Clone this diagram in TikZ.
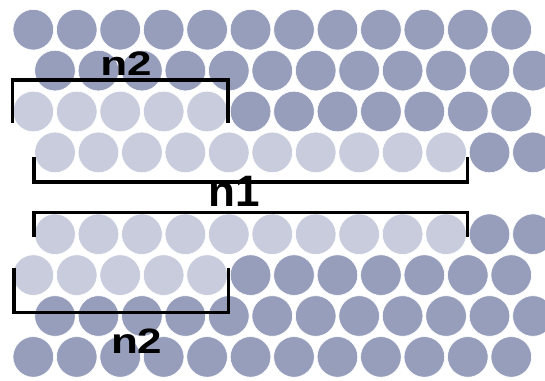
\documentclass[tikz,border=0pt]{standalone}
\usepackage{fontspec}
\setmainfont{Liberation Sans}
\definecolor{dotdark}{RGB}{150,158,187}
\definecolor{dotlight}{RGB}{200,204,220}
\tikzset{
  bead/.style={draw=white, line width=0.6pt},
  bracket/.style={draw=black, line width=3.5pt, line join=miter, line cap=butt},
  tag/.style={anchor=base, inner sep=0pt, font=\bfseries\fontsize{44}{44}\selectfont},
}
\begin{document}
\begin{tikzpicture}[x=1pt,y=-1pt]
\useasboundingbox (0,0) rectangle (545,380);
\clip (0,0) rectangle (545,380);
% rows of beads: centre y / first centre x / number of light beads
\foreach \yy/\xx/\nl in {29.7/33.3/0, 70.6/55/0, 111.5/33.3/5, 152.4/55/10,
                         234.2/55/10, 275.1/33.3/5, 316/55/0, 356.9/33.3/0}{
  \foreach \k in {0,...,11}{
    \ifnum\k<\nl\relax\def\beadcol{dotlight}\else\def\beadcol{dotdark}\fi
    \fill[bead, fill=\beadcol] ({\xx+43.45*\k},\yy) circle (20.3);
  }
}
% brackets
\draw[bracket] (12.5,123.3) -- (12.5,80) -- (228,80) -- (228,123.3);
\draw[bracket] (33.8,157) -- (33.8,182) -- (467.7,182) -- (467.7,157);
\draw[bracket] (33.8,236.7) -- (33.8,212.7) -- (467.7,212.7) -- (467.7,236.7);
\draw[bracket] (14,268.3) -- (14,312.5) -- (228.3,312.5) -- (228.3,268.3);
% labels
\node[tag] (n2top) at (126,75) {\scalebox{1}[0.77]{n2}};
\node[tag] (n1mid) at (234,206.7) {n1};
\node[tag] (n2bot) at (136.7,353) {\scalebox{1}[0.8]{n2}};
\end{tikzpicture}
\end{document}
